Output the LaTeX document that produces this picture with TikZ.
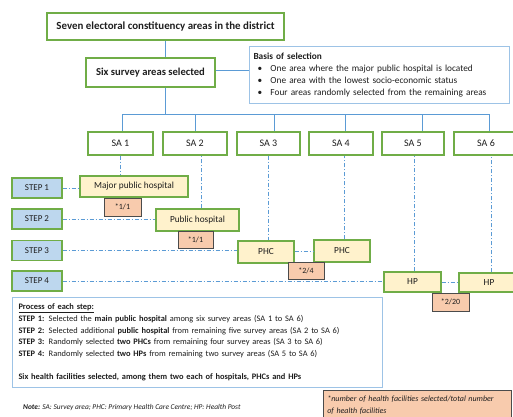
\documentclass[tikz,border=0pt]{standalone}
\usepackage{fontspec}
\setmainfont{Carlito}
\usetikzlibrary{calc}

\definecolor{boxgreen}{HTML}{70AD47}
\definecolor{linkblue}{HTML}{5B9BD5}
\definecolor{paleblue}{HTML}{9DC3E6}
\definecolor{stepfill}{HTML}{BDD7EE}
\definecolor{facfill}{HTML}{FFF2CC}
\definecolor{ratiofill}{HTML}{F8CBAD}
\definecolor{inkgray}{HTML}{1E1E1E}

\tikzset{
  greenbox/.style={draw=boxgreen, line width=1.3pt, fill=white, inner sep=0pt, text=inkgray},
  sabox/.style={greenbox, minimum height=23, font=\fontsize{10}{12}\selectfont},
  stepbox/.style={greenbox, fill=stepfill, minimum width=50, minimum height=20, font=\fontsize{9}{11}\selectfont},
  facbox/.style={greenbox, fill=facfill, font=\fontsize{9.3}{11}\selectfont},
  ratiobox/.style={draw=inkgray!80, line width=0.6pt, fill=ratiofill, inner sep=0pt, minimum height=17, font=\fontsize{8}{9}\selectfont, text=inkgray},
  infobox/.style={draw=paleblue, line width=1pt, fill=white, inner sep=0pt, text=inkgray},
  solidlink/.style={draw=linkblue, line width=1pt},
  dashlink/.style={draw=linkblue, line width=0.9pt, dash pattern=on 4pt off 2pt on 1pt off 2pt}
}

\begin{document}
\begin{tikzpicture}[x=1pt, y=-1pt]
\clip (0,0) rectangle (513,416);
\fill[white] (0,0) rectangle (513,416);

% --- top of the hierarchy ---
\node[greenbox, minimum width=237, minimum height=27, font=\bfseries\fontsize{10.9}{12}\selectfont]
  (district) at (165.5,26.5) {Seven electoral constituency areas in the district};
\node[greenbox, minimum width=129, minimum height=29, font=\bfseries\fontsize{10.6}{12}\selectfont]
  (six) at (150.5,72.5) {Six survey areas selected};

\node[infobox, minimum width=260, minimum height=57, anchor=north west, align=left,
      text width=252, inner xsep=4pt, font=\fontsize{9.3}{12}\selectfont]
  (basis) at (249,46) {%
  \textbf{Basis of selection}\\
  \makebox[17pt][l]{\hspace{4pt}\textbullet}One area where the major public hospital is located\\
  \makebox[17pt][l]{\hspace{4pt}\textbullet}One area with the lowest socio-economic status\\
  \makebox[17pt][l]{\hspace{4pt}\textbullet}Four areas randomly selected from the remaining areas};

% --- survey areas ---
\node[sabox, minimum width=65] (sa1) at (120.5,143.5) {SA 1};
\node[sabox, minimum width=64] (sa2) at (195,143.5) {SA 2};
\node[sabox, minimum width=63] (sa3) at (268.5,143.5) {SA 3};
\node[sabox, minimum width=64] (sa4) at (341,143.5) {SA 4};
\node[sabox, minimum width=62] (sa5) at (413,143.5) {SA 5};
\node[sabox, minimum width=64] (sa6) at (486,143.5) {SA 6};

% --- steps ---
\node[stepbox] (step1) at (37,188) {STEP 1};
\node[stepbox] (step2) at (37,219) {STEP 2};
\node[stepbox] (step3) at (37,250.5) {STEP 3};
\node[stepbox] (step4) at (37,281) {STEP 4};

% --- selected facilities ---
\node[facbox, minimum width=108, minimum height=21] (mph) at (134,186.5) {Major public hospital};
\node[facbox, minimum width=83, minimum height=22] (ph) at (197.5,220) {Public hospital};
\node[facbox, minimum width=56, minimum height=22] (phc1) at (266,252) {PHC};
\node[facbox, minimum width=56, minimum height=22] (phc2) at (342,251) {PHC};
\node[facbox, minimum width=57, minimum height=20] (hp1) at (412.5,282) {HP};
\node[facbox, minimum width=60, minimum height=19] (hp2) at (489,282.5) {HP};

% --- solid tree links ---
\coordinate (bus) at (165,114);
\coordinate (b1) at (122,114);
\coordinate (b2) at (195,114);
\coordinate (b3) at (274,114);
\coordinate (b4) at (345,114);
\coordinate (b5) at (422,114);
\coordinate (b6) at (489,114);
\draw[solidlink] (district.south -| bus) -- (six.north -| bus);
\draw[solidlink] (six.south -| bus) -- (bus);
\draw[solidlink] (six.east |- 0,70) -- (basis.west |- 0,70);
\draw[solidlink] (b1) -- (b6);
\foreach \i in {1,...,6} {\draw[solidlink] (b\i) -- (b\i |- sa\i.north);}

% --- dash-dotted selection links ---
\draw[dashlink] (step1.east) -- (step1.east -| mph.west);
\draw[dashlink] (step2.east) -- (step2.east -| ph.west);
\draw[dashlink] (step3.east) -- (step3.east -| phc1.west);
\draw[dashlink] (step4.east) -- (step4.east -| hp1.west);
\draw[dashlink] (phc1.east |- 0,251) -- (phc2.west |- 0,251);
\draw[dashlink] (hp1.east) -- (hp1.east -| hp2.west);
\draw[dashlink] (sa1.south) -- (sa1.south |- mph.north);
\draw[dashlink] (ph.north -| 201,0) -- (sa2.south -| 201,0);
\draw[dashlink] (sa3.south) -- (sa3.south |- phc1.north);
\draw[dashlink] (phc2.north -| 344,0) -- (sa4.south -| 344,0);
\draw[dashlink] (hp1.north -| 414,0) -- (sa5.south -| 414,0);
\draw[dashlink] (hp2.north -| 491,0) -- (sa6.south -| 491,0);

% --- selection ratios ---
\node[ratiobox, minimum width=37, minimum height=18] (r1) at (122.5,207) {*1/1};
\node[ratiobox, minimum width=35] (r2) at (195.5,239.5) {*1/1};
\node[ratiobox, minimum width=36] (r3) at (306,270.5) {*2/4};
\node[ratiobox, minimum width=37, minimum height=18] (r4) at (450.5,302) {*2/20};

% --- process description ---
\node[infobox, anchor=north west, minimum width=370, minimum height=90, align=left,
      text width=358, inner xsep=6pt, font=\fontsize{8.4}{11.6}\selectfont]
  (process) at (12,297) {%
  \underline{\textbf{Process of each step:}}\\
  \textbf{STEP 1:} Selected the \textbf{main public hospital} among six survey areas (SA 1 to SA 6)\\
  \textbf{STEP 2:} Selected additional \textbf{public hospital} from remaining five survey areas (SA 2 to SA 6)\\
  \textbf{STEP 3:} Randomly selected \textbf{two PHCs} from remaining four survey areas (SA 3 to SA 6)\\
  \textbf{STEP 4:} Randomly selected \textbf{two HPs} from remaining two survey areas (SA 5 to SA 6)\\[11.6pt]
  \textbf{Six health facilities selected, among them two each of hospitals, PHCs and HPs}};

% --- notes ---
\node[anchor=west, inner sep=0pt, text=inkgray, font=\itshape\fontsize{7.4}{8}\selectfont]
  (note) at (23,408) {\textbf{Note:} SA: Survey area; PHC: Primary Health Care Centre; HP: Health Post};
\node[ratiobox, anchor=north west, minimum width=188, minimum height=29, align=left,
      text width=180, inner xsep=4pt, font=\itshape\fontsize{8}{12}\selectfont]
  (key) at (323,390) {*number of health facilities selected/total number\\of health facilities};
\end{tikzpicture}
\end{document}
